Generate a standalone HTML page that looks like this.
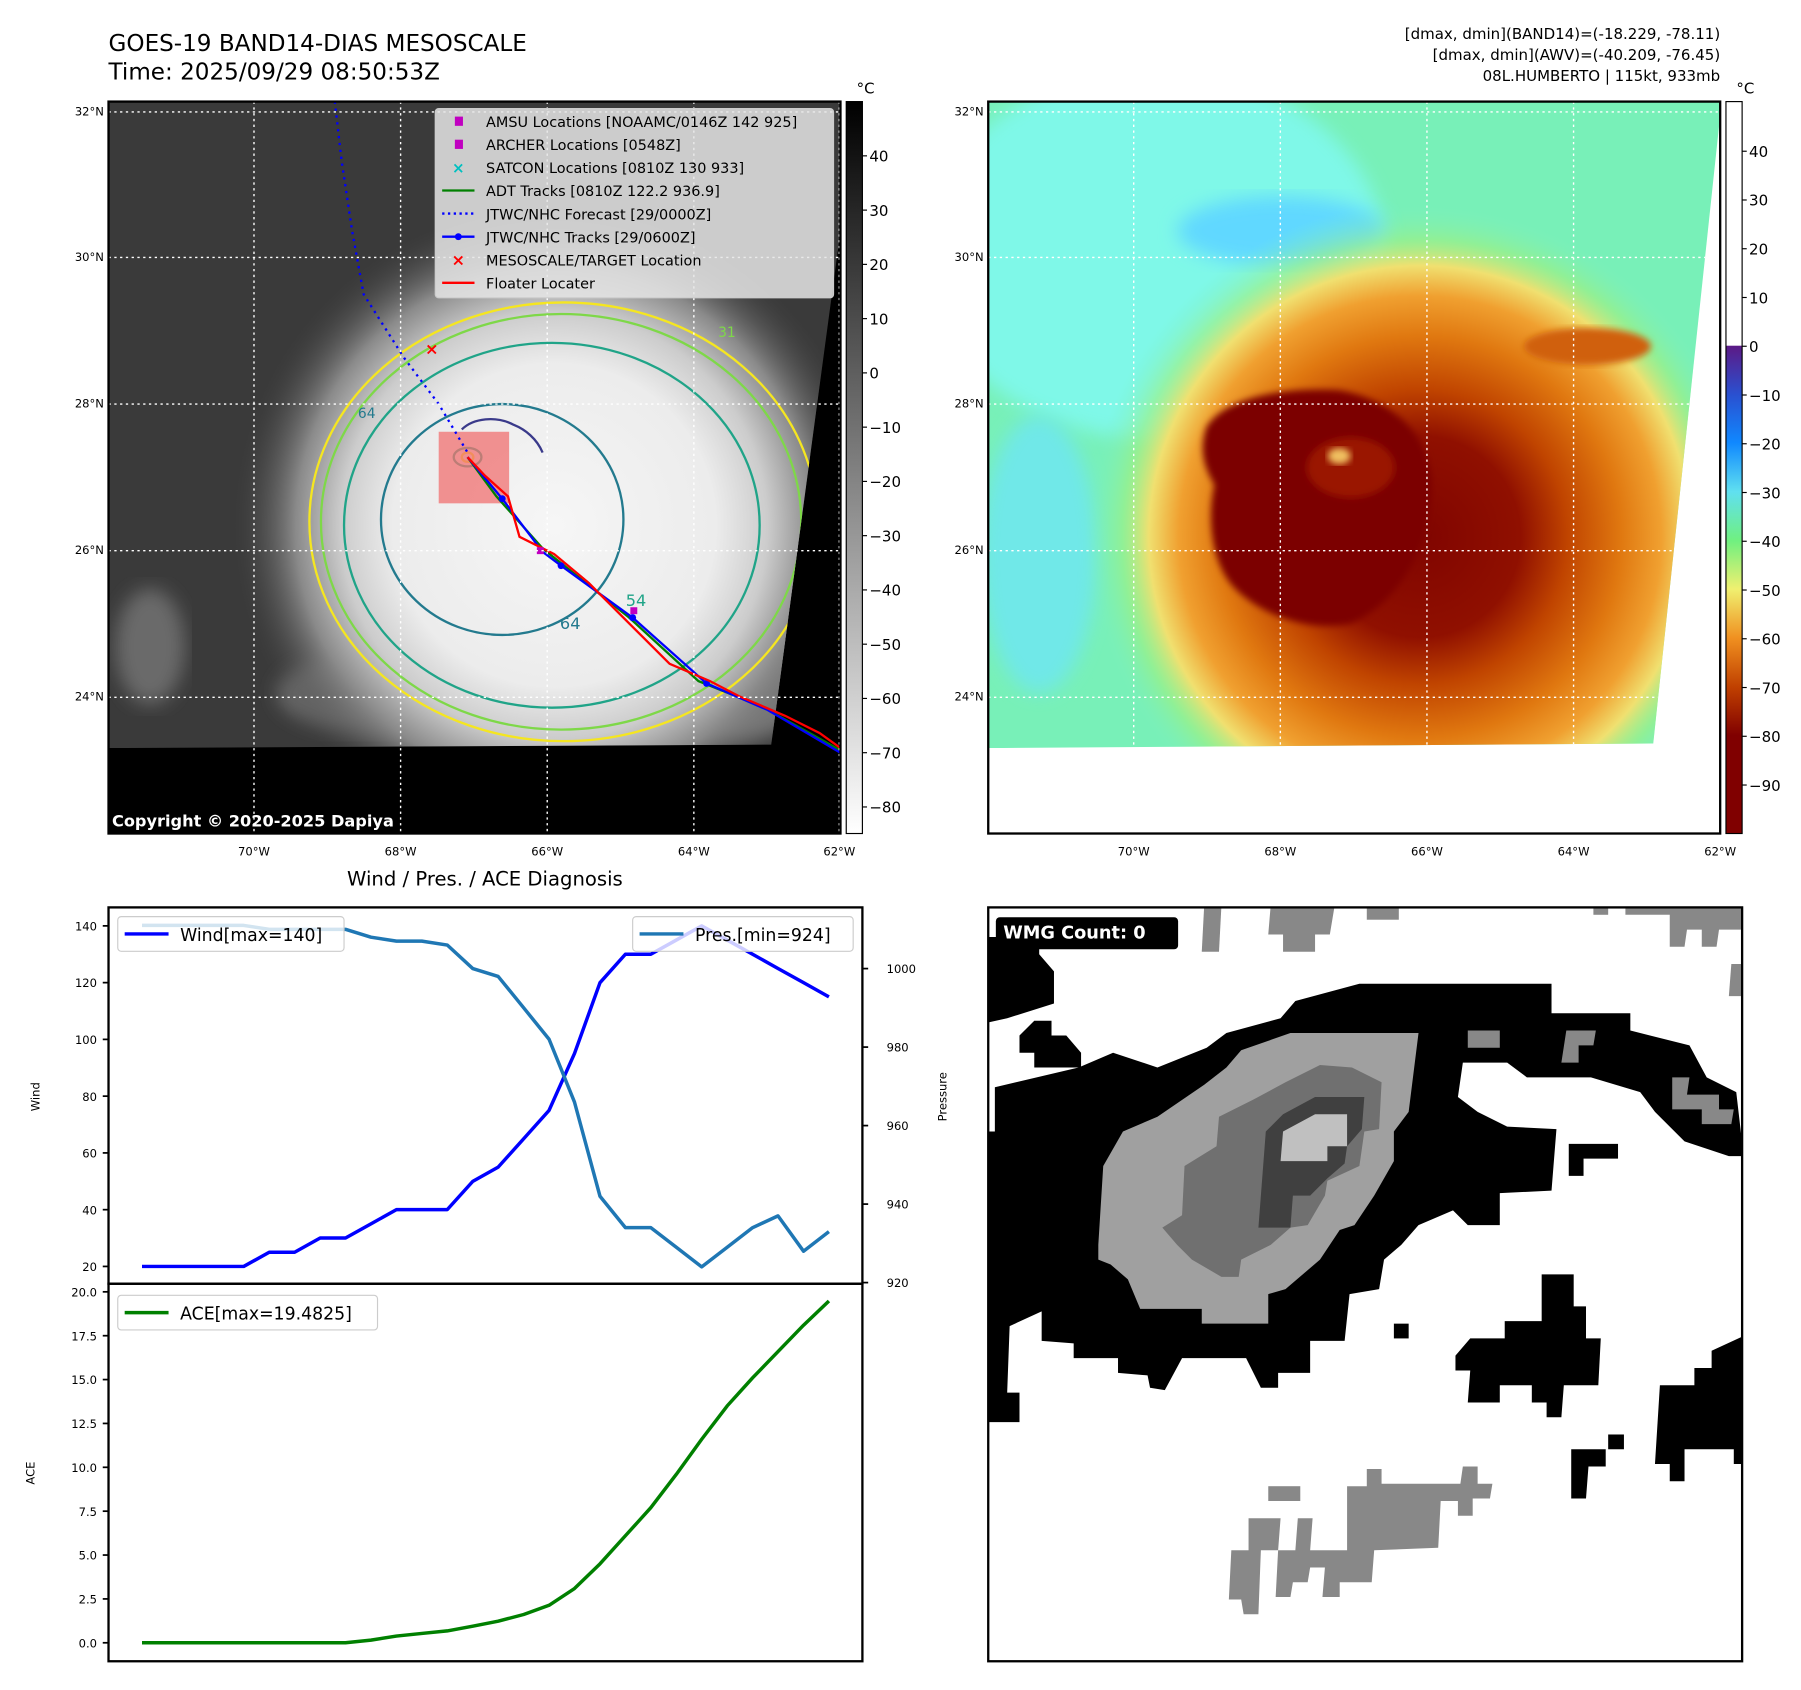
<!DOCTYPE html>
<html><head><meta charset="utf-8"><style>
html,body{margin:0;padding:0;background:#fff}
svg{display:block}
text{font-family:"DejaVu Sans","Liberation Sans",sans-serif}
</style></head><body>
<svg id="fig" width="1801" height="1690" viewBox="0 0 1560 1463.9" preserveAspectRatio="none" xmlns="http://www.w3.org/2000/svg">
<defs>
<clipPath id="clipL"><polygon points="94,88 728,88 728,200 668,645 94,648"/></clipPath>
<clipPath id="clipR"><polygon points="856,88 1490,88 1490,100 1432,644 856,648"/></clipPath>
<radialGradient id="gStormL" cx="480" cy="455" r="280" gradientUnits="userSpaceOnUse">
<stop offset="0" stop-color="#f6f6f6"/><stop offset="0.5" stop-color="#ececec"/><stop offset="0.66" stop-color="#cccccc"/><stop offset="0.8" stop-color="#8a8a8a"/><stop offset="1" stop-color="#3c3c3c" stop-opacity="0"/></radialGradient>
<radialGradient id="gStormR" cx="1230" cy="465" r="290" gradientUnits="userSpaceOnUse">
<stop offset="0" stop-color="#800400"/><stop offset="0.3" stop-color="#901000"/><stop offset="0.44" stop-color="#c04400"/><stop offset="0.6" stop-color="#e07810"/><stop offset="0.72" stop-color="#f0a030"/><stop offset="0.81" stop-color="#f0e070"/><stop offset="0.89" stop-color="#a0f080" stop-opacity="0.6"/><stop offset="1" stop-color="#78f0c8" stop-opacity="0"/></radialGradient>
<linearGradient id="gCbL" x1="0" y1="0" x2="0" y2="1"><stop offset="0" stop-color="#000"/><stop offset="1" stop-color="#fff"/></linearGradient>
<linearGradient id="gCbR" x1="0" y1="88" x2="0" y2="722" gradientUnits="userSpaceOnUse">
<stop offset="0" stop-color="#ffffff"/><stop offset="0.333" stop-color="#ffffff"/><stop offset="0.334" stop-color="#5c1a86"/><stop offset="0.40" stop-color="#2a50d0"/><stop offset="0.466" stop-color="#1088ff"/><stop offset="0.533" stop-color="#60e0f0"/><stop offset="0.6" stop-color="#70f080"/><stop offset="0.666" stop-color="#f0f070"/><stop offset="0.733" stop-color="#f09020"/><stop offset="0.8" stop-color="#c04000"/><stop offset="0.866" stop-color="#800000"/><stop offset="1" stop-color="#800000"/></linearGradient>
<filter id="blur8"><feGaussianBlur stdDeviation="8"/></filter>
<filter id="blur3"><feGaussianBlur stdDeviation="3"/></filter>
</defs>

<text x="94" y="44" font-size="20">GOES-19 BAND14-DIAS MESOSCALE</text>
<text x="94" y="69" font-size="20">Time: 2025/09/29 08:50:53Z</text>
<g font-size="13" text-anchor="end">
<text x="1490" y="34">[dmax, dmin](BAND14)=(-18.229, -78.11)</text>
<text x="1490" y="52">[dmax, dmin](AWV)=(-40.209, -76.45)</text>
<text x="1490" y="70">08L.HUMBERTO | 115kt, 933mb</text>
</g>

<g>
<rect x="94" y="88" width="634" height="634" fill="#000"/>
<g clip-path="url(#clipL)">
<rect x="94" y="88" width="634" height="560" fill="#3a3a3a"/>
<ellipse cx="640" cy="540" rx="90" ry="100" fill="#8a8a8a" filter="url(#blur8)"/>
<ellipse cx="330" cy="600" rx="90" ry="35" fill="#6a6a6a" filter="url(#blur8)"/>
<ellipse cx="130" cy="560" rx="30" ry="50" fill="#6a6a6a" filter="url(#blur8)"/>
<rect x="94" y="88" width="634" height="560" fill="url(#gStormL)"/>
<ellipse cx="488" cy="452" rx="220" ry="190" fill="none" stroke="#f5e620" stroke-width="2"/>
<ellipse cx="486" cy="452" rx="208" ry="180" fill="none" stroke="#7ed848" stroke-width="2"/>
<ellipse cx="478" cy="455" rx="180" ry="158" fill="none" stroke="#20a488" stroke-width="2"/>
<ellipse cx="435" cy="450" rx="105" ry="100" fill="none" stroke="#237a8e" stroke-width="2"/>
<path d="M400,372 C410,362 430,360 445,368 C455,372 465,380 470,392" fill="none" stroke="#3a3a8a" stroke-width="2"/>
<ellipse cx="405" cy="396" rx="12" ry="8" fill="none" stroke="#20a488" stroke-width="2"/>
<ellipse cx="405" cy="396" rx="5" ry="4" fill="none" stroke="#f5e620" stroke-width="2"/>
<text x="310" y="362" font-size="12" fill="#237a8e">64</text>
<text x="485" y="545" font-size="14" fill="#237a8e">64</text>
<text x="542" y="525" font-size="14" fill="#20a488">54</text>
<text x="622" y="292" font-size="12" fill="#7ed848">31</text>
</g>
<rect x="380" y="374" width="61" height="62" fill="#f07070" opacity="0.75"/>
<polyline points="290,88 296,140 305,200 315,255 350,310 380,350 405,392" fill="none" stroke="#0000ff" stroke-width="2" stroke-dasharray="2,4"/>
<polyline points="405,396 430,430 470,475 545,535 605,590 660,612 728,650" fill="none" stroke="#008000" stroke-width="2"/>
<polyline points="405,396 435,432 470,478 486,490 548,535 612,592 665,615 728,652" fill="none" stroke="#0000ff" stroke-width="2"/>
<g fill="#0000ff"><circle cx="435" cy="432" r="3"/><circle cx="486" cy="490" r="3"/><circle cx="548" cy="535" r="3"/><circle cx="612" cy="592" r="3"/></g>
<polyline points="405,396 420,412 440,430 450,465 480,480 510,505 545,540 580,575 615,590 640,603 680,620 710,635 728,648" fill="none" stroke="#ff0000" stroke-width="2"/>
<g fill="#c000c0"><rect x="465" y="474" width="6" height="6"/><rect x="546" y="526" width="6" height="6"/></g>
<text x="374" y="307" font-size="14" fill="#ff0000" font-weight="bold" text-anchor="middle">×</text>
<g stroke="#fff" stroke-width="1.2" stroke-dasharray="2,3">
<line x1="220" y1="88" x2="220" y2="722"/><line x1="347" y1="88" x2="347" y2="722"/><line x1="474" y1="88" x2="474" y2="722"/><line x1="601" y1="88" x2="601" y2="722"/><line x1="727" y1="88" x2="727" y2="722"/>
<line x1="94" y1="97" x2="728" y2="97"/><line x1="94" y1="223" x2="728" y2="223"/><line x1="94" y1="350" x2="728" y2="350"/><line x1="94" y1="477" x2="728" y2="477"/><line x1="94" y1="604" x2="728" y2="604"/>
</g>
<g>
<rect x="377" y="94" width="345" height="164" rx="3" fill="#e6e6e6" fill-opacity="0.85" stroke="#ccc"/>
<g font-size="12.5">
<rect x="394" y="101" width="7" height="8" fill="#c000c0"/><text x="421" y="110">AMSU Locations [NOAAMC/0146Z 142 925]</text>
<rect x="394" y="121" width="7" height="8" fill="#c000c0"/><text x="421" y="130">ARCHER Locations [0548Z]</text>
<text x="397" y="150" fill="#00c0c0" font-size="13" text-anchor="middle" font-weight="bold">×</text><text x="421" y="150">SATCON Locations [0810Z 130 933]</text>
<line x1="383" y1="165" x2="411" y2="165" stroke="#008000" stroke-width="2"/><text x="421" y="170">ADT Tracks [0810Z 122.2 936.9]</text>
<line x1="383" y1="185" x2="411" y2="185" stroke="#0000ff" stroke-width="2" stroke-dasharray="2,3"/><text x="421" y="190">JTWC/NHC Forecast [29/0000Z]</text>
<line x1="383" y1="205" x2="411" y2="205" stroke="#0000ff" stroke-width="2"/><circle cx="397" cy="205" r="3" fill="#0000ff"/><text x="421" y="210">JTWC/NHC Tracks [29/0600Z]</text>
<text x="397" y="230" fill="#ff0000" font-size="14" text-anchor="middle" font-weight="bold">×</text><text x="421" y="230">MESOSCALE/TARGET Location</text>
<line x1="383" y1="245" x2="411" y2="245" stroke="#ff0000" stroke-width="2"/><text x="421" y="250">Floater Locater</text>
</g></g>
<text x="97" y="716" font-size="14" font-weight="bold" fill="#fff">Copyright © 2020-2025 Dapiya</text>
<rect x="94" y="88" width="634" height="634" fill="none" stroke="#000" stroke-width="2"/>
<g font-size="10" text-anchor="end">
<text x="90" y="100">32°N</text><text x="90" y="226">30°N</text><text x="90" y="353">28°N</text><text x="90" y="480">26°N</text><text x="90" y="607">24°N</text></g>
<g font-size="10" text-anchor="middle">
<text x="220" y="741">70°W</text><text x="347" y="741">68°W</text><text x="474" y="741">66°W</text><text x="601" y="741">64°W</text><text x="727" y="741">62°W</text></g>
</g>
<g>
<rect x="733" y="88" width="14" height="634" fill="url(#gCbL)" stroke="#000" stroke-width="1"/>
<text x="742" y="81" font-size="13">°C</text>
<g font-size="13" id="cbLticks"></g>
</g>

<g>
<rect x="856" y="88" width="634" height="634" fill="#fff"/>
<g clip-path="url(#clipR)">
<rect x="856" y="88" width="634" height="560" fill="#78f0b8"/>
<ellipse cx="1000" cy="220" rx="200" ry="160" fill="#7ff8e8" filter="url(#blur8)"/>
<ellipse cx="1110" cy="200" rx="90" ry="30" fill="#60d8ff" filter="url(#blur8)"/>
<ellipse cx="900" cy="480" rx="50" ry="120" fill="#70e8e8" filter="url(#blur8)"/>
<rect x="856" y="88" width="634" height="560" fill="url(#gStormR)"/>
<path d="M1045,370 C1060,345 1110,335 1160,338 C1200,345 1235,370 1240,415 C1240,470 1215,520 1170,540 C1130,548 1090,530 1070,510 C1050,490 1045,450 1052,420 C1040,400 1040,385 1045,370Z" fill="#7c0000" filter="url(#blur3)"/>
<ellipse cx="1170" cy="405" rx="38" ry="26" fill="#9a1800" filter="url(#blur3)"/>
<ellipse cx="1160" cy="395" rx="10" ry="7" fill="#f0c060" filter="url(#blur3)"/>
<ellipse cx="1375" cy="300" rx="55" ry="16" fill="#d06010" filter="url(#blur3)"/>
</g>
<g stroke="#fff" stroke-width="1.2" stroke-dasharray="2,3" clip-path="url(#clipR)">
<line x1="982" y1="88" x2="982" y2="722"/><line x1="1109" y1="88" x2="1109" y2="722"/><line x1="1236" y1="88" x2="1236" y2="722"/><line x1="1363" y1="88" x2="1363" y2="722"/>
<line x1="856" y1="97" x2="1490" y2="97"/><line x1="856" y1="223" x2="1490" y2="223"/><line x1="856" y1="350" x2="1490" y2="350"/><line x1="856" y1="477" x2="1490" y2="477"/><line x1="856" y1="604" x2="1490" y2="604"/>
</g>
<rect x="856" y="88" width="634" height="634" fill="none" stroke="#000" stroke-width="2"/>
<g font-size="10" text-anchor="end">
<text x="852" y="100">32°N</text><text x="852" y="226">30°N</text><text x="852" y="353">28°N</text><text x="852" y="480">26°N</text><text x="852" y="607">24°N</text></g>
<g font-size="10" text-anchor="middle">
<text x="982" y="741">70°W</text><text x="1109" y="741">68°W</text><text x="1236" y="741">66°W</text><text x="1363" y="741">64°W</text><text x="1490" y="741">62°W</text></g>
</g>
<g>
<rect x="1495" y="88" width="14" height="634" fill="url(#gCbR)" stroke="#000" stroke-width="1"/>
<text x="1504" y="81" font-size="13">°C</text>
<g font-size="13" id="cbRticks"></g>
</g>

<text x="420" y="767" font-size="17" text-anchor="middle">Wind / Pres. / ACE Diagnosis</text>
<g id="ts">
<rect x="94" y="786" width="653" height="326" fill="#fff"/>
<rect x="94" y="1112" width="653" height="327" fill="#fff"/>
<g id="tsLines"></g>
<g id="tsTicks" font-size="10"></g>
<rect x="94" y="786" width="653" height="326" fill="none" stroke="#000" stroke-width="2"/>
<rect x="94" y="1112" width="653" height="327" fill="none" stroke="#000" stroke-width="2"/>
<text transform="translate(34,950) rotate(-90)" font-size="10" text-anchor="middle">Wind</text>
<text transform="translate(820,950) rotate(-90)" font-size="10" text-anchor="middle">Pressure</text>
<text transform="translate(30,1276) rotate(-90)" font-size="10" text-anchor="middle">ACE</text>
<g><rect x="102" y="794" width="196" height="30" rx="3" fill="#fff" fill-opacity="0.8" stroke="#ccc"/><line x1="108" y1="809" x2="146" y2="809" stroke="#0000ff" stroke-width="3"/><text x="156" y="815" font-size="15">Wind[max=140]</text></g>
<g><rect x="548" y="794" width="191" height="30" rx="3" fill="#fff" fill-opacity="0.8" stroke="#ccc"/><line x1="554" y1="809" x2="592" y2="809" stroke="#1f77b4" stroke-width="3"/><text x="602" y="815" font-size="15">Pres.[min=924]</text></g>
<g><rect x="102" y="1122" width="225" height="30" rx="3" fill="#fff" fill-opacity="0.8" stroke="#ccc"/><line x1="108" y1="1137" x2="146" y2="1137" stroke="#008000" stroke-width="3"/><text x="156" y="1143" font-size="15">ACE[max=19.4825]</text></g>
</g>

<g>
<rect x="856" y="786" width="653" height="653" fill="#fff"/>
<svg x="856" y="786" width="653" height="653" viewBox="856 786 653 653" overflow="hidden">
<g transform="translate(853.2,779.6) scale(0.4267)">
<polygon fill="#000" points="0,75 110,75 110,110 140,145 140,210 45,240 0,250"/>
<polygon fill="#000" points="20,380 190,340 260,310 350,340 450,300 490,270 600,240 630,205 760,170 990,170 1150,170 1150,230 1310,230 1310,265 1430,295 1465,360 1525,390 1540,520 1510,520 1420,490 1360,430 1330,390 1230,360 1100,360 1060,330 970,330 960,400 1000,430 1060,460 1160,465 1150,590 1045,595 1045,660 980,660 950,630 880,660 845,700 810,730 800,790 740,800 730,895 660,895 660,960 595,960 595,990 560,990 530,930 400,930 365,995 335,990 330,965 270,960 270,930 180,930 180,900 115,895 115,835 50,865 45,1000 70,1000 70,1060 0,1060 0,470 20,470"/>
<polygon fill="#000" points="70,275 100,245 135,245 135,275 165,275 195,310 195,340 100,340 100,310 70,310"/>
<polygon fill="#a0a0a0" points="230,700 240,540 280,470 350,440 445,375 490,340 520,305 620,270 880,270 860,430 830,470 830,530 790,600 750,660 720,670 680,730 610,790 575,800 575,860 440,860 440,830 315,830 290,770 255,740 230,730"/>
<polygon fill="#707070" points="360,665 400,640 405,540 470,500 475,440 545,405 610,370 680,335 745,340 805,370 800,465 770,470 760,540 695,570 690,600 655,660 620,665 580,700 520,730 515,765 480,765 420,730 390,700"/>
<polygon fill="#404040" points="555,665 570,470 605,435 670,400 770,400 765,465 735,500 730,535 695,565 660,600 625,600 620,665"/>
<polygon fill="#c0c0c0" points="600,530 605,470 670,435 735,435 735,500 695,500 695,530"/>
<polygon fill="#000" points="955,925 985,890 1055,890 1055,855 1130,855 1130,760 1195,760 1195,825 1220,825 1220,890 1250,890 1245,985 1175,985 1170,1050 1140,1050 1140,1020 1110,1020 1110,985 1045,985 1045,1020 980,1020 985,955 955,955"/>
<polygon fill="#000" points="1360,1145 1370,985 1440,985 1440,950 1475,950 1475,915 1540,885 1540,1145 1520,1145 1520,1115 1420,1115 1420,1180 1390,1180 1390,1145"/>
<rect x="830" y="860" width="30" height="30" fill="#000"/>
<rect x="1265" y="1085" width="32" height="30" fill="#000"/>
<polygon fill="#000" points="1190,1115 1260,1115 1260,1150 1225,1150 1220,1215 1190,1215"/>
<polygon fill="#000" points="1185,495 1285,495 1285,525 1215,525 1215,560 1185,560"/>
<g fill="#888">
<polygon points="735,1190 775,1190 775,1155 805,1155 805,1185 965,1185 970,1150 1000,1150 1000,1185 1030,1185 1025,1215 990,1215 990,1250 960,1250 960,1220 925,1220 920,1315 790,1320 785,1385 720,1385 720,1415 685,1415 690,1355 660,1355 655,1385 625,1385 620,1415 590,1415 595,1320 630,1320 635,1255 665,1255 660,1320 735,1320"/>
<polygon points="535,1255 600,1255 595,1320 560,1320 555,1450 525,1450 520,1420 495,1420 500,1320 535,1320"/>
<rect x="575" y="1190" width="65" height="30"/>
<polygon points="580,10 710,10 700,70 670,70 670,105 605,105 605,70 575,70"/>
<polygon points="445,10 480,10 475,105 440,105"/>
<rect x="775" y="10" width="65" height="30"/>
<polygon points="1300,10 1540,10 1540,60 1490,60 1485,95 1455,95 1455,60 1425,60 1420,95 1390,95 1390,30 1300,30"/>
<rect x="1235" y="10" width="30" height="20"/>
<polygon points="1515,130 1540,130 1540,195 1510,195"/>
<polygon points="980,265 1045,265 1045,300 980,300"/>
<polygon points="1180,265 1240,265 1235,295 1205,295 1205,330 1170,330"/>
<polygon points="1395,360 1430,360 1425,395 1490,395 1490,425 1520,425 1515,455 1455,455 1455,425 1395,425"/>
</g>
<rect x="22" y="35" width="370" height="65" rx="8" fill="#000"/>
<text x="37" y="78" font-size="36" font-weight="bold" fill="#fff">WMG Count: 0</text>
</g>
</svg>
<rect x="856" y="786" width="653" height="653" fill="none" stroke="#000" stroke-width="2"/>
</g>
</svg>
<script>
const windValues = [20,20,20,20,20,25,25,30,30,35,40,40,40,50,55,65,75,95,120,130,130,135,140,135,130,125,120,115];
const presValues = [1011,1011,1011,1011,1011,1010,1010,1010,1010,1008,1007,1007,1006,1000,998,990,982,966,942,934,934,929,924,929,934,937,928,933];
const aceValues = [0,0,0,0,0,0,0,0,0,0.15,0.38,0.53,0.68,0.95,1.23,1.61,2.14,3.09,4.5,6.1,7.7,9.6,11.6,13.5,15.1,16.6,18.1,19.4825];
const windTicks = [20,40,60,80,100,120,140];
const presTicks = [920,940,960,980,1000];
const aceTicks = [0,2.5,5,7.5,10,12.5,15,17.5,20];
const cbLTicks = [40,30,20,10,0,-10,-20,-30,-40,-50,-60,-70,-80];
const cbRTicks = [40,30,20,10,0,-10,-20,-30,-40,-50,-60,-70,-80,-90];

const NS='http://www.w3.org/2000/svg';
const xS = i => 123 + i*(718-123)/(windValues.length-1);
const yW = v => 1097 - (v-20)*(295/120);
const yP = v => 1111 - (v-920)*(272/80);
const yA = v => 1423 - v*(304/20);
const yCL = v => 135 + (40-v)*(564/120);
const yCR = v => 131 + (40-v)*(549/130);

function mk(tag, attrs, parent){const e=document.createElementNS(NS,tag);for(const k in attrs)e.setAttribute(k,attrs[k]);parent.appendChild(e);return e;}
const lines=document.getElementById('tsLines');
function series(vals, yf, color, name){
  const pts=vals.map((v,i)=>xS(i).toFixed(1)+','+yf(v).toFixed(1)).join(' ');
  const p=mk('polyline',{points:pts,fill:'none',stroke:color,'stroke-width':3,'stroke-linejoin':'round'},lines);
  
  
}
series(windValues,yW,'#0000ff','wind-line');
series(presValues,yP,'#1f77b4','pressure-line');
series(aceValues,yA,'#008000','ace-line');

const tk=document.getElementById('tsTicks');
windTicks.forEach(v=>{const y=yW(v);mk('line',{x1:89,y1:y,x2:94,y2:y,stroke:'#000','stroke-width':1.5},tk);const t=mk('text',{x:84,y:y+4,'text-anchor':'end'},tk);t.textContent=v;});
presTicks.forEach(v=>{const y=yP(v);mk('line',{x1:747,y1:y,x2:752,y2:y,stroke:'#000','stroke-width':1.5},tk);const t=mk('text',{x:768,y:y+4},tk);t.textContent=v;});
aceTicks.forEach(v=>{const y=yA(v);mk('line',{x1:89,y1:y,x2:94,y2:y,stroke:'#000','stroke-width':1.5},tk);const t=mk('text',{x:84,y:y+4,'text-anchor':'end'},tk);t.textContent=v.toFixed(1);});

const cl=document.getElementById('cbLticks');
cbLTicks.forEach(v=>{const y=yCL(v);mk('line',{x1:747,y1:y,x2:751,y2:y,stroke:'#000'},cl);const t=mk('text',{x:753,y:y+5},cl);t.textContent=v<0?'\u2212'+(-v):v;});
const cr=document.getElementById('cbRticks');
cbRTicks.forEach(v=>{const y=yCR(v);mk('line',{x1:1509,y1:y,x2:1513,y2:y,stroke:'#000'},cr);const t=mk('text',{x:1515,y:y+5},cr);t.textContent=v<0?'\u2212'+(-v):v;});
</script>
</body></html>
